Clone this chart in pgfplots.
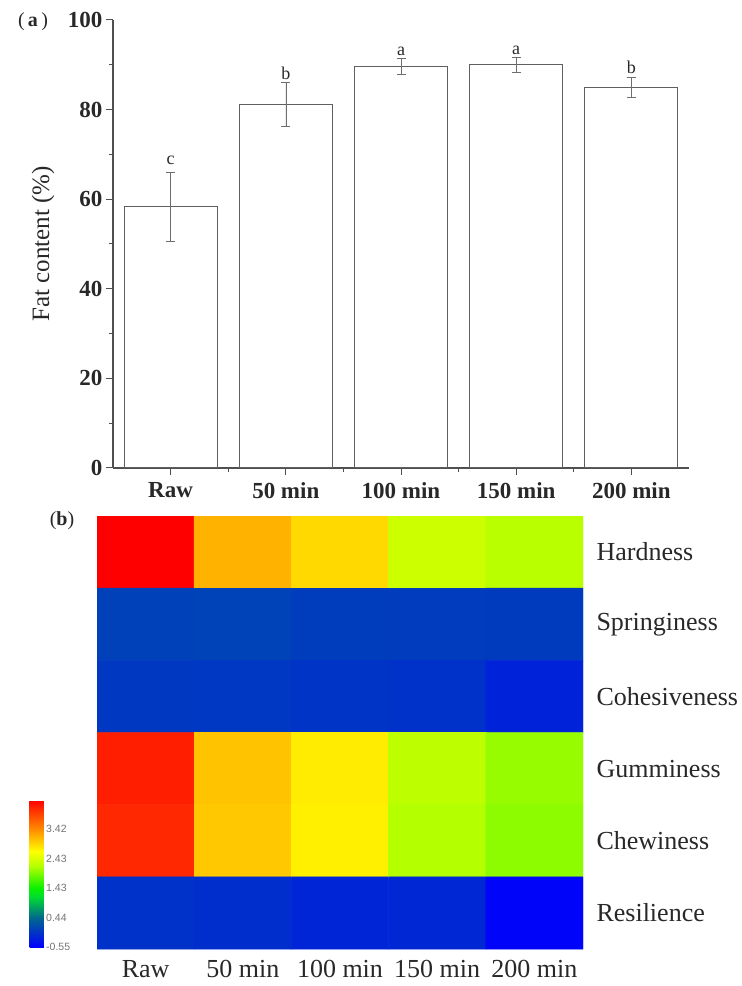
\documentclass[border=0pt]{standalone}
\usepackage{fontspec}
\setmainfont{Liberation Serif}
\newfontfamily\cbfont{Liberation Sans}
\usepackage{pgfplots}
\pgfplotsset{compat=1.18}
\definecolor{axisgray}{RGB}{80,80,80}
\definecolor{bargray}{RGB}{95,95,95}
\definecolor{errgray}{RGB}{110,110,110}
\definecolor{textgray}{RGB}{40,40,40}
\pgfplotsset{colormap={heat}{rgb255(0cm)=(0,0,255) rgb255(2cm)=(0,105,140) rgb255(3.4cm)=(0,220,50) rgb255(4cm)=(10,240,0) rgb255(5.5cm)=(180,255,0) rgb255(6.5cm)=(255,255,0) rgb255(8cm)=(255,140,0) rgb255(10cm)=(255,0,0)}}

% rows: 0 Hardness ... 5 Resilience (top to bottom)
\pgfplotstableread{
x y c
0 0 4.41
1 0 3.17
2 0 2.92
3 0 2.34
4 0 2.21
0 1 0.05
1 1 0.07
2 1 0.03
3 1 0.02
4 1 0.01
0 2 -0.02
1 2 -0.03
2 2 -0.06
3 2 -0.08
4 2 -0.22
0 3 4.20
1 3 3.06
2 3 2.80
3 3 2.24
4 3 2.05
0 4 4.13
1 4 3.03
2 4 2.77
3 4 2.18
4 4 2.01
0 5 -0.08
1 5 -0.12
2 5 -0.20
3 5 -0.18
4 5 -0.50
}\texture

\begin{document}
\begin{tikzpicture}
\useasboundingbox (0,0) rectangle (742pt,986pt);

% (a) fat content
\begin{axis}[at={(113pt,518pt)},anchor=south west,scale only axis,width=576pt,height=448pt,
  xmin=0.5,xmax=5.5,ymin=0,ymax=100,
  axis x line=bottom,axis y line=left,
  axis line style={-,line width=1.1pt,color=axisgray},
  x axis line style={-},y axis line style={-},
  xtick={1,...,5},xticklabels={Raw,50 min,100 min,150 min,200 min},
  minor xtick={1.5,2.5,3.5,4.5},
  ytick={0,20,...,100},minor ytick={10,30,...,90},
  tick align=outside,major tick length=7pt,minor tick length=4pt,
  tick style={line width=1pt,color=axisgray},
  ticklabel style={font=\bfseries\fontsize{23}{27}\selectfont,text=textgray},
  xticklabel shift=4pt,
  /pgf/number format/assume math mode=true,
  ylabel={Fat content (\%)},
  ylabel style={font=\fontsize{25}{30}\selectfont,text=textgray,at={(axis description cs:-0.1215,0.5)},anchor=center},
  clip=false]
\addplot[ybar,bar width=0.807,fill=white,draw=bargray,line width=1pt,
  error bars/.cd,y dir=both,y explicit,
  error bar style={line width=0.6pt,color=errgray},
  error mark options={rotate=90,mark size=4.5pt,line width=0.6pt,color=errgray}]
  coordinates {(1,58.4) +- (0,7.7) (2,81.2) +- (0,4.9) (3,89.6) +- (0,1.8) (4,90.0) +- (0,1.6) (5,85.0) +- (0,2.3)};
\addplot[draw=none,mark=none,nodes near coords,point meta=explicit symbolic,
  every node near coord/.style={anchor=south,inner sep=1.5pt,font=\fontsize{18}{20}\selectfont,text=textgray}]
  coordinates {(1,67.3)[c] (2,86.4)[b] (3,91.6)[a] (4,91.8)[a] (5,87.6)[b]};
\end{axis}

% (b) texture heat map
\begin{axis}[at={(97pt,37pt)},anchor=south west,scale only axis,width=486pt,height=433pt,
  xmin=-0.5,xmax=4.5,ymin=-0.5,ymax=5.5,enlargelimits=false,y dir=reverse,
  axis line style={draw=none},major tick length=0pt,
  xtick={0,...,4},xticklabels={Raw,50 min,100 min,150 min,200 min},
  ytick={0,...,5},yticklabels={Hardness,Springiness,Cohesiveness,Gumminess,Chewiness,Resilience},
  yticklabel pos=right,yticklabel shift=10pt,xticklabel shift=8pt,
  ticklabel style={font=\fontsize{26}{30}\selectfont,text=textgray},
  colormap name=heat,point meta min=-0.55,point meta max=4.41,
  colorbar,
  colorbar style={at={(parent axis.south west)},anchor=south east,xshift=-54pt,yshift=2pt,
    scale only axis,width=22pt,height=147pt,y dir=normal,
    ytick={-0.55,0.44,1.43,2.43,3.42},yticklabels={-0.55,0.44,1.43,2.43,3.42},
    yticklabel pos=right,yticklabel shift=-6pt,
    every y tick label/.style={font=\cbfont\fontsize{10.5}{12}\selectfont,text=black!55,anchor=west,inner sep=0.5pt},
    major tick length=0pt,axis line style={draw=none}}]
\addplot[matrix plot,mesh/cols=5,point meta=explicit,faceted color=mapped color!75!white,line width=0.5pt]
  table[x=x,y=y,meta=c] {\texture};
\end{axis}

\node[font=\fontsize{20}{24}\selectfont,text=textgray] at (33pt,964pt) {(\,\textbf{a}\,)};
\node[font=\fontsize{20}{24}\selectfont,text=textgray] at (62pt,465pt) {(\textbf{b})};
\end{tikzpicture}
\end{document}
